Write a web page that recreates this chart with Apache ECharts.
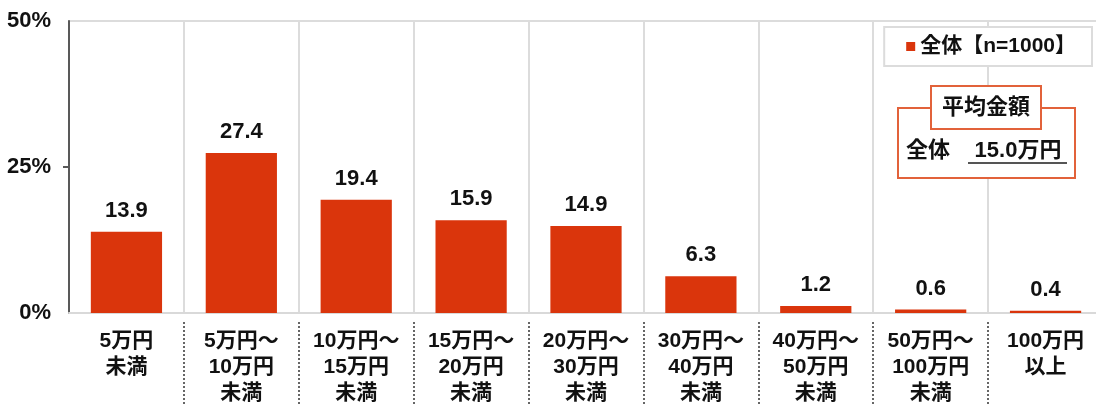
<!DOCTYPE html>
<html>
<head>
<meta charset="utf-8">
<script src="https://cdn.jsdelivr.net/npm/echarts@6/dist/echarts.min.js"></script>
<style>
  html, body { margin: 0; padding: 0; background: #fff; }
  #chart { width: 1096px; height: 406px; }
</style>
</head>
<body>
<div id="chart"></div>
<script>
const categories = [
  '5万円\n未満',
  '5万円～\n10万円\n未満',
  '10万円～\n15万円\n未満',
  '15万円～\n20万円\n未満',
  '20万円～\n30万円\n未満',
  '30万円～\n40万円\n未満',
  '40万円～\n50万円\n未満',
  '50万円～\n100万円\n未満',
  '100万円\n以上'
]
const values = [13.9, 27.4, 19.4, 15.9, 14.9, 6.3, 1.2, 0.6, 0.4]
const seriesName = '全体【n=1000】'
const averageLabel = '平均金額'
const averageWho = '全体'
const averageValue = '15.0万円'

// latin glyphs from Liberation Sans, kanji fall back to Noto CJK
const FONT = '"Liberation Sans", "Noto Sans CJK JP", sans-serif'
const RED = '#da350c'
const BOX = '#e2623a'

const chart = echarts.init(document.getElementById('chart'))

chart.setOption({
  animation: false,
  textStyle: { fontFamily: FONT },
  legend: {
    data: [seriesName],
    right: 4,
    top: 27,
    padding: [9, 16, 9, 22],
    borderColor: '#dcdcdc',
    borderWidth: 2,
    backgroundColor: '#fff',
    icon: 'rect',
    itemWidth: 9,
    itemHeight: 9,
    itemGap: 6,
    textStyle: { fontFamily: FONT, fontSize: 21, fontWeight: 'bold', color: '#111' }
  },
  grid: [
    {
      left: 69, top: 21, width: 1034, bottom: 93,
      outerBoundsMode: 'none',
      show: true, borderColor: '#dcdcdc', borderWidth: 2
    },
    { left: 69, top: 322, width: 1034, bottom: 0, outerBoundsMode: 'none' }
  ],
  xAxis: [
    {
      type: 'category',
      data: categories,
      axisLine: { lineStyle: { color: '#d9d9d9', width: 2 } },
      axisTick: { show: false },
      axisLabel: {
        margin: 15,
        fontFamily: FONT,
        fontSize: 21,
        fontWeight: 'bold',
        lineHeight: 26,
        color: '#111'
      },
      splitLine: {
        show: true,
        interval: i => i > 0,
        lineStyle: { color: '#dcdcdc', width: 2 }
      }
    },
    {
      type: 'category',
      gridIndex: 1,
      data: categories,
      axisLine: { show: false },
      axisTick: { show: false },
      axisLabel: { show: false },
      splitLine: {
        show: true,
        interval: i => i > 0,
        lineStyle: { color: '#666', width: 2, type: 'dotted' }
      }
    }
  ],
  yAxis: [
    {
      type: 'value',
      min: 0,
      max: 50,
      interval: 25,
      axisLine: { show: true, lineStyle: { color: '#595959', width: 2 } },
      axisTick: { show: true, length: 6, customValues: [25], lineStyle: { color: '#595959', width: 2 } },
      axisLabel: {
        margin: 18,
        formatter: '{value}%',
        fontFamily: FONT,
        fontSize: 22,
        fontWeight: 'bold',
        color: '#111'
      },
      splitLine: { show: false }
    },
    { type: 'value', gridIndex: 1, show: false }
  ],
  series: [
    {
      name: seriesName,
      type: 'bar',
      data: values,
      barWidth: '62%',
      itemStyle: { color: RED },
      label: {
        show: true,
        position: 'top',
        distance: 10,
        formatter: p => p.value.toFixed(1),
        fontFamily: FONT,
        fontSize: 22,
        fontWeight: 'bold',
        color: '#111'
      }
    }
  ],
  graphic: [
    {
      type: 'rect',
      shape: { x: 898, y: 108, width: 177, height: 70 },
      style: { fill: '#fff', stroke: BOX, lineWidth: 2 },
      z: 10
    },
    {
      type: 'rect',
      shape: { x: 931, y: 86, width: 110, height: 43 },
      style: { fill: '#fff', stroke: BOX, lineWidth: 2 },
      z: 11
    },
    {
      type: 'text',
      x: 986,
      y: 108,
      style: {
        text: averageLabel,
        fontFamily: FONT,
        fontSize: 22,
        fontWeight: 'bold',
        fill: '#111',
        align: 'center',
        verticalAlign: 'middle'
      },
      z: 12
    },
    {
      type: 'text',
      x: 906,
      y: 151,
      style: {
        text: averageWho,
        fontFamily: FONT,
        fontSize: 22,
        fontWeight: 'bold',
        fill: '#111',
        verticalAlign: 'middle'
      },
      z: 12
    },
    {
      type: 'text',
      x: 1018,
      y: 151,
      style: {
        text: averageValue,
        fontFamily: FONT,
        fontSize: 22,
        fontWeight: 'bold',
        fill: '#111',
        align: 'center',
        verticalAlign: 'middle'
      },
      z: 12
    },
    {
      type: 'line',
      shape: { x1: 968, y1: 163, x2: 1067, y2: 163 },
      style: { stroke: '#555', lineWidth: 2 },
      z: 12
    }
  ]
})
</script>
</body>
</html>
